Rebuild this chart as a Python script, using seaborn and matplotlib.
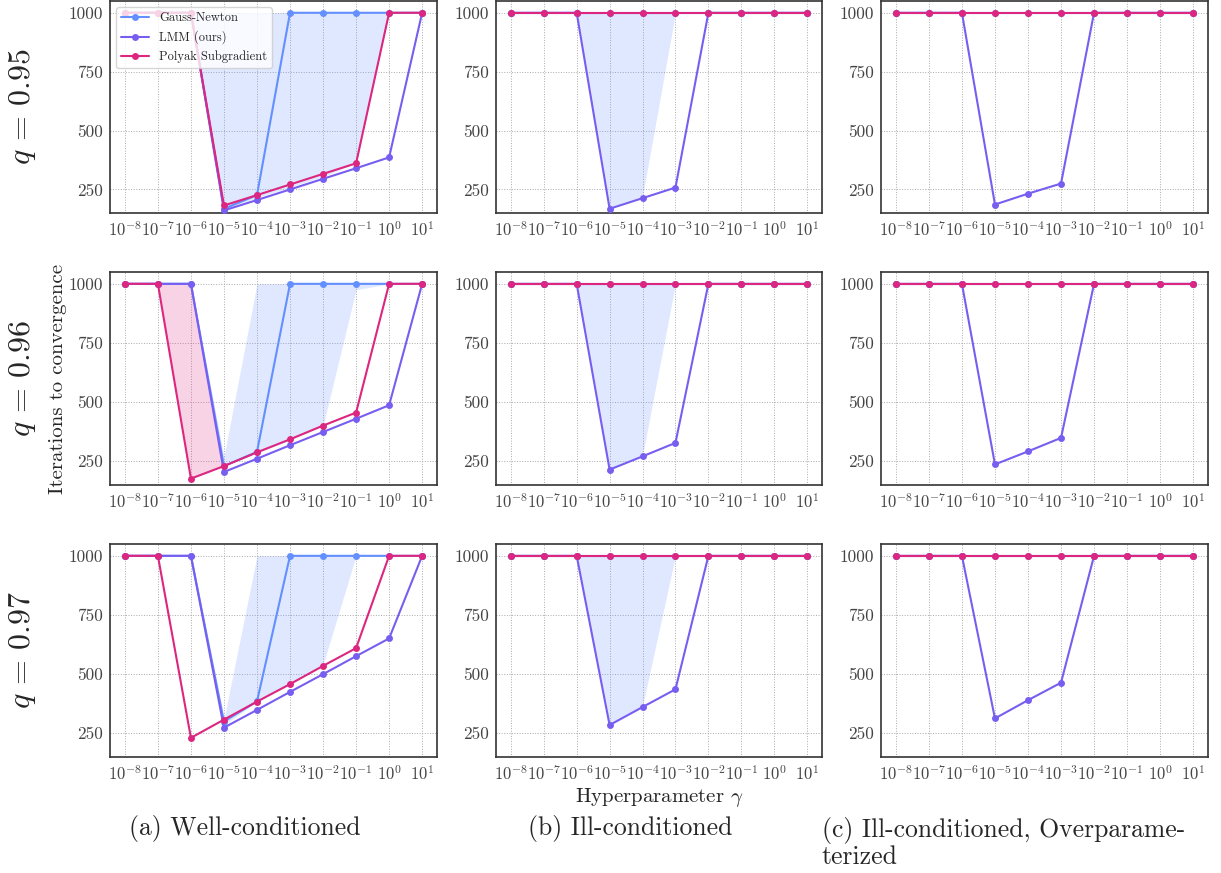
import numpy as np
import pandas as pd
import matplotlib
matplotlib.use('Agg')
import matplotlib.pyplot as plt
import seaborn as sns

gamma = [1e-8, 1e-7, 1e-6, 1e-5, 1e-4, 1e-3, 1e-2, 1e-1, 1e0, 1e1]
gamma_labels = ['$10^{-8}$', '$10^{-7}$', '$10^{-6}$', '$10^{-5}$', '$10^{-4}$',
                '$10^{-3}$', '$10^{-2}$', '$10^{-1}$', '$10^{0}$', '$10^{1}$']
q_values = ['0.95', '0.96', '0.97']
methods = ['Gauss-Newton', 'LMM (ours)', 'Polyak Subgradient']
colors = ['#648FFF', '#785EF0', '#DC267F']
captions = ['(a) Well-conditioned', '(b) Ill-conditioned',
            '(c) Ill-conditioned, Overparame-\nterized']

# (a) well-conditioned, rows q=0.95, 0.96, 0.97
gn_a = [[1000, 1000, 1000, 168, 226, 1000, 1000, 1000, 1000, 1000],
        [1000, 1000, 1000, 230, 290, 1000, 1000, 1000, 1000, 1000],
        [1000, 1000, 1000, 300, 385, 1000, 1000, 1000, 1000, 1000]]
lmm_a = [[1000, 1000, 1000, 161, 205, 250, 295, 340, 386, 1000],
         [1000, 1000, 1000, 205, 261, 318, 374, 430, 487, 1000],
         [1000, 1000, 1000, 274, 349, 425, 500, 576, 651, 1000]]
polyak_a = [[1000, 1000, 1000, 182, 226, 271, 316, 361, 1000, 1000],
            [1000, 1000, 177, 230, 288, 343, 401, 456, 1000, 1000],
            [1000, 1000, 231, 308, 384, 458, 535, 610, 1000, 1000]]
gn_lo_a = [[1000, 1000, 1000, 168, 215, 260, 305, 361, 1000, 1000],
           [1000, 1000, 1000, 230, 285, 340, 400, 975, 1000, 1000],
           [1000, 1000, 1000, 285, 384, 458, 540, 1000, 1000, 1000]]
gn_hi_a = [[1000, 1000, 1000, 1000, 1000, 1000, 1000, 1000, 1000, 1000],
           [1000, 1000, 1000, 270, 1000, 1000, 1000, 1000, 1000, 1000],
           [1000, 1000, 1000, 310, 1000, 1000, 1000, 1000, 1000, 1000]]
polyak_lo_a96 = [1000, 1000, 177, 230, 288, 343, 401, 456, 1000, 1000]
polyak_hi_a96 = [1000, 1000, 1000, 230, 288, 343, 401, 456, 1000, 1000]

# (b) ill-conditioned
gn_b = [[1000] * 10, [1000] * 10, [1000] * 10]
lmm_b = [[1000, 1000, 1000, 168, 213, 258, 1000, 1000, 1000, 1000],
         [1000, 1000, 1000, 215, 271, 328, 1000, 1000, 1000, 1000],
         [1000, 1000, 1000, 285, 361, 436, 1000, 1000, 1000, 1000]]
polyak_b = [[1000] * 10, [1000] * 10, [1000] * 10]
gn_lo_b = [[1000, 1000, 1000, 168, 220, 1000, 1000, 1000, 1000, 1000],
           [1000, 1000, 1000, 215, 275, 1000, 1000, 1000, 1000, 1000],
           [1000, 1000, 1000, 285, 365, 1000, 1000, 1000, 1000, 1000]]
gn_hi_b = [[1000] * 10, [1000] * 10, [1000] * 10]

# (c) ill-conditioned, overparameterized
gn_c = [[1000] * 10, [1000] * 10, [1000] * 10]
lmm_c = [[1000, 1000, 1000, 186, 232, 275, 1000, 1000, 1000, 1000],
         [1000, 1000, 1000, 237, 292, 349, 1000, 1000, 1000, 1000],
         [1000, 1000, 1000, 313, 390, 464, 1000, 1000, 1000, 1000]]
polyak_c = [[1000] * 10, [1000] * 10, [1000] * 10]

sns.set_style('white')
plt.rcParams['font.family'] = ['cmr10', 'DejaVu Serif']
plt.rcParams['mathtext.fontset'] = 'cm'
plt.rcParams['axes.unicode_minus'] = False

W, H = 1221, 873
fig = plt.figure(figsize=(W / 100, H / 100), dpi=100)

col_left = [110, 496, 881]
col_width = [327, 326, 327]
row_top = [1, 272, 544]
row_height = [212, 213, 213]

series = [(gn_a, lmm_a, polyak_a), (gn_b, lmm_b, polyak_b), (gn_c, lmm_c, polyak_c)]
bands = [(gn_lo_a, gn_hi_a), (gn_lo_b, gn_hi_b), None]

axes = {}
for r in range(3):
    for c in range(3):
        ax = fig.add_axes([col_left[c] / W, 1 - (row_top[r] + row_height[r]) / H,
                           col_width[c] / W, row_height[r] / H])
        axes[(r, c)] = ax
        gn, lmm, pol = series[c]
        df = pd.DataFrame({
            'gamma': gamma * 3,
            'iters': gn[r] + lmm[r] + pol[r],
            'method': [m for m in methods for _ in gamma],
        })
        if bands[c] is not None:
            lo, hi = bands[c]
            ax.fill_between(gamma, lo[r], hi[r], color=colors[0], alpha=0.2,
                            linewidth=0, zorder=1)
        if c == 0 and r == 1:
            ax.fill_between(gamma, polyak_lo_a96, polyak_hi_a96, color=colors[2],
                            alpha=0.2, linewidth=0, zorder=1)
        sns.lineplot(data=df, x='gamma', y='iters', hue='method', hue_order=methods,
                     palette=colors, marker='o', markersize=5, markeredgewidth=0,
                     linewidth=1.5, ax=ax, legend=(r == 0 and c == 0), zorder=3)
        ax.set_xscale('log')
        ax.set_xticks(gamma)
        ax.set_xticklabels(gamma_labels)
        ax.minorticks_off()
        ax.set_ylim(150, 1050)
        ax.set_yticks([250, 500, 750, 1000])
        ax.set_yticklabels(['250', '500', '750', '1000'])
        ax.grid(True, linestyle=':', color='#aaaaaa', linewidth=0.7)
        ax.set_axisbelow(True)
        ax.tick_params(axis='x', length=3, width=0.8, color='#555555', labelsize=12,
                       labelcolor='#444444', pad=2)
        ax.tick_params(axis='y', length=3, width=0.8, color='#555555', labelsize=12.5,
                       labelcolor='#444444', pad=2)
        for s in ax.spines.values():
            s.set_color('#333333')
            s.set_linewidth(1.2)
        ax.set_xlabel('')
        ax.set_ylabel('')

axes[(0, 0)].legend(loc='upper left', fontsize=9, frameon=True,
                    borderaxespad=0.5, handlelength=2.2)

axes[(1, 0)].set_ylabel('Iterations to convergence', fontsize=15, labelpad=1)
axes[(2, 1)].set_xlabel('Hyperparameter $\\gamma$', fontsize=15, labelpad=2)

for r in range(3):
    yc = 1 - (row_top[r] + row_height[r] / 2) / H
    fig.text(22 / W, yc, '$q\\,=\\,' + q_values[r] + '$', rotation=90,
             fontsize=23, ha='center', va='center')

fig.text(245 / W, 1 - 829 / H, captions[0], fontsize=18.5, ha='center', va='center')
fig.text(630 / W, 1 - 829 / H, captions[1], fontsize=18.5, ha='center', va='center')
fig.text(822 / W, 1 - 843 / H, captions[2], fontsize=18.5, ha='left', va='center',
         linespacing=1.1)

fig.savefig('out.png', dpi=100)
